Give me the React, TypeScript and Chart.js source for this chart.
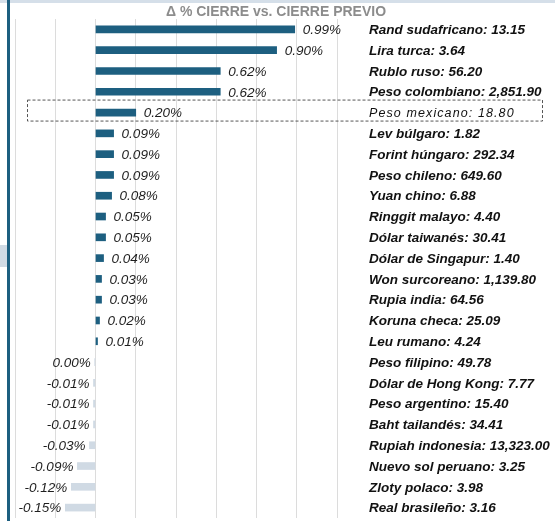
import React, { useEffect, useRef } from 'react';
import { Chart, registerables } from 'chart.js';

Chart.register(...registerables);

const title = 'Δ % CIERRE vs. CIERRE PREVIO';

const currencies = [
  'Rand sudafricano', 'Lira turca', 'Rublo ruso', 'Peso colombiano', 'Peso mexicano',
  'Lev búlgaro', 'Forint húngaro', 'Peso chileno', 'Yuan chino', 'Ringgit malayo',
  'Dólar taiwanés', 'Dólar de Singapur', 'Won surcoreano', 'Rupia india', 'Koruna checa',
  'Leu rumano', 'Peso filipino', 'Dólar de Hong Kong', 'Peso argentino', 'Baht tailandés',
  'Rupiah indonesia', 'Nuevo sol peruano', 'Zloty polaco', 'Real brasileño',
];

const closeRates = [
  '13.15', '3.64', '56.20', '2,851.90', '18.80',
  '1.82', '292.34', '649.60', '6.88', '4.40',
  '30.41', '1.40', '1,139.80', '64.56', '25.09',
  '4.24', '49.78', '7.77', '15.40', '34.41',
  '13,323.00', '3.25', '3.98', '3.16',
];

const changes = [
  0.99, 0.90, 0.62, 0.62, 0.20,
  0.09, 0.09, 0.09, 0.08, 0.05,
  0.05, 0.04, 0.03, 0.03, 0.02,
  0.01, -0.004, -0.01, -0.01, -0.01,
  -0.03, -0.09, -0.12, -0.15,
];

const highlighted = 'Peso mexicano';

const DARK = '#1d5f80';
const LIGHT = '#d0dae4';
const FONT = '"Liberation Sans", Arial, Helvetica, sans-serif';

const fmt = (v: number) => (Math.abs(v) < 0.005 ? '0.00' : v.toFixed(2)) + '%';

const labelsPlugin = {
  id: 'customLabels',
  afterDatasetsDraw(chart: any) {
    const { ctx, chartArea } = chart;
    const meta = chart.getDatasetMeta(0);
    const zeroX = chart.scales.x.getPixelForValue(0);
    ctx.save();
    // title
    ctx.font = `bold 14px ${FONT}`;
    ctx.fillStyle = '#8c8c8c';
    ctx.textAlign = 'center';
    ctx.textBaseline = 'middle';
    ctx.fillText(title, 276, 12);

    meta.data.forEach((bar: any, i: number) => {
      const v = changes[i];
      const y = bar.y;
      ctx.font = `italic 13.5px ${FONT}`;
      ctx.fillStyle = '#1e1e1e';
      ctx.textBaseline = 'middle';
      if (v > 0) {
        ctx.textAlign = 'left';
        ctx.fillText(fmt(v), bar.x + 8, y + 1);
      } else {
        ctx.textAlign = 'right';
        ctx.fillText(fmt(v), Math.min(bar.x, zeroX) - 4, y + 1);
      }
      const text = `${currencies[i]}: ${closeRates[i]}`;
      ctx.textAlign = 'left';
      ctx.fillStyle = '#111';
      if (currencies[i] === highlighted) {
        ctx.font = `italic 12.5px ${FONT}`;
        (ctx as any).letterSpacing = '1.1px';
        ctx.fillText(text, chartArea.right + 32, y + 1);
        (ctx as any).letterSpacing = '0px';
        // dashed highlight box
        ctx.strokeStyle = '#555';
        ctx.lineWidth = 1;
        ctx.setLineDash([3, 2]);
        ctx.strokeRect(27.5, y - 12.5, 515, 21);
        ctx.setLineDash([]);
      } else {
        ctx.font = `bold italic 13.5px ${FONT}`;
        ctx.fillText(text, chartArea.right + 32, y + 1);
      }
    });
    ctx.restore();
  },
};

export default function App() {
  const ref = useRef<HTMLCanvasElement | null>(null);
  useEffect(() => {
    if (!ref.current) return;
    const chart = new Chart(ref.current, {
      type: 'bar',
      data: {
        labels: currencies,
        datasets: [
          {
            data: changes,
            backgroundColor: changes.map((v) => (v > 0 ? DARK : LIGHT)),
            borderWidth: 0,
            barThickness: 7,
          },
        ],
      },
      options: {
        indexAxis: 'y',
        animation: false,
        responsive: false,
        maintainAspectRatio: false,
        layout: { padding: { top: 19, bottom: 3, left: 15, right: 218 } },
        plugins: {
          legend: { display: false },
          title: { display: false },
          tooltip: { enabled: false },
        },
        scales: {
          x: {
            min: -0.4,
            max: 1.2,
            ticks: { display: false, stepSize: 0.2 },
            grid: { color: '#dcdcdc', drawTicks: false },
            border: { display: false },
          },
          y: { display: false },
        },
      },
      plugins: [labelsPlugin],
    });
    return () => chart.destroy();
  }, []);

  return (
    <div style={{ position: 'fixed', left: 0, top: 0, width: 555, height: 521, background: '#fff', overflow: 'hidden' }}>
      <canvas ref={ref} width={555} height={521} style={{ position: 'absolute', left: 0, top: 0 }} />
      <div style={{ position: 'absolute', left: 0, top: 0, width: 555, height: 3, background: '#d5dfe9' }} />
      <div style={{ position: 'absolute', left: 0, top: 245, width: 7, height: 22, background: '#d0dae4' }} />
      <div style={{ position: 'absolute', left: 7, top: 0, width: 3, height: 521, background: DARK }} />
    </div>
  );
}
